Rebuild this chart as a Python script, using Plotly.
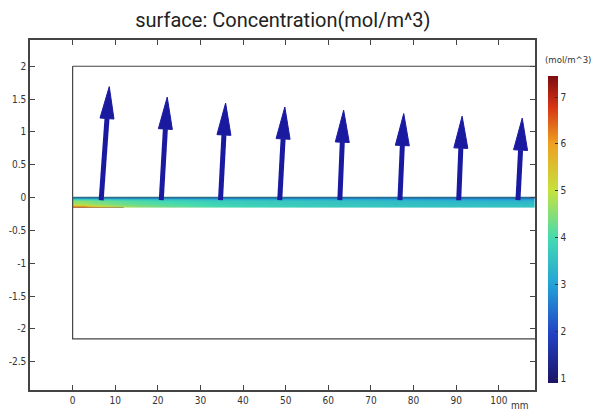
import plotly.graph_objects as go
import numpy as np

# ---- data ----
x_ticks = [0, 10, 20, 30, 40, 50, 60, 70, 80, 90, 100]
y_ticks = [-2.5, -2, -1.5, -1, -0.5, 0, 0.5, 1, 1.5, 2]
y_tick_labels = ["-2.5", "-2", "-1.5", "-1", "-0.5", "0", "0.5", "1", "1.5", "2"]

# outer domain (mm)
domain_x = [0, 110, 110, 0, 0]
domain_y = [2, 2, -2.15, -2.15, 2]

# concentration strip (surface plot): cell edges in mm, values per cell
strip_x_edges = [0, 5, 15, 30, 45, 60, 75, 90, 110]
strip_y_edges = [0, -0.02, -0.07, -0.12, -0.15]
strip_c = [
    [2.7, 2.6, 2.6, 2.5, 2.5, 2.5, 2.4, 2.4],
    [4.5, 4.2, 3.9, 3.7, 3.6, 3.5, 3.4, 3.3],
    [4.8, 4.4, 4.1, 3.8, 3.7, 3.6, 3.5, 3.5],
    [6.4, 4.9, 4.3, 4.0, 3.8, 3.7, 3.6, 3.6],
]

# flux arrows: base x, tip offset x, tip y
arrow_x = [6.7, 20.8, 34.7, 48.6, 62.7, 76.8, 90.6, 104.5]
arrow_dx = [1.9, 1.4, 1.2, 1.2, 0.9, 0.9, 0.8, 1.0]
arrow_tip_y = [1.69, 1.53, 1.44, 1.38, 1.33, 1.28, 1.24, 1.21]
arrow_base_y = -0.04

cbar_ticks = [1, 2, 3, 4, 5, 6, 7]
c_min, c_max = 0.9, 7.45

# ---- styles ----
X_RANGE = [-10, 108.5]
Y_RANGE = [-2.93, 2.4]
PX_PER_X = 505 / (X_RANGE[1] - X_RANGE[0])
PX_PER_Y = 350 / (Y_RANGE[1] - Y_RANGE[0])
HEAD_LEN_PX = 32
HEAD_HALF_W_PX = 7
ARROW_COLOR = "#1a1aa0"
FONT = "DejaVu Sans Condensed, Liberation Sans Narrow, Roboto"

rainbow = [
    [0.0, "#1c1466"],
    [0.16, "#2242c4"],
    [0.32, "#22a2d8"],
    [0.47, "#44dab2"],
    [0.625, "#c6e23e"],
    [0.78, "#eea020"],
    [0.9, "#d63414"],
    [1.0, "#7e0c10"],
]

fig = go.Figure()

fig.add_trace(go.Heatmap(
    x=strip_x_edges, y=strip_y_edges, z=strip_c, zsmooth="best",
    zmin=c_min, zmax=c_max, colorscale=rainbow,
    colorbar=dict(
        x=1.025, xanchor="left", xpad=0, y=0.4586, yanchor="middle", ypad=0,
        len=0.877, lenmode="fraction", thickness=10,
        outlinewidth=0, tickvals=cbar_ticks, ticks="inside", ticklen=3,
        tickcolor="#333", tickfont=dict(family=FONT, size=10, color="#333"),
    ),
    hoverinfo="skip", showscale=True,
))

# domain outline
fig.add_trace(go.Scatter(x=domain_x, y=domain_y, mode="lines",
                         line=dict(color="#444", width=1.2), hoverinfo="skip", showlegend=False))
# strip boundaries
fig.add_trace(go.Scatter(x=[domain_x[0], domain_x[1]], y=[strip_y_edges[0], strip_y_edges[0]], mode="lines",
                         line=dict(color="#2a6f86", width=1.5), hoverinfo="skip", showlegend=False))
fig.add_trace(go.Scatter(x=[domain_x[0], 12], y=[strip_y_edges[-1], strip_y_edges[-1]], mode="lines",
                         line=dict(color="rgba(120,70,20,0.5)", width=1), hoverinfo="skip", showlegend=False))

# arrows
for bx, dx, ty in zip(arrow_x, arrow_dx, arrow_tip_y):
    tx = bx + dx
    vx = dx * PX_PER_X
    vy = (ty - arrow_base_y) * PX_PER_Y
    L = np.hypot(vx, vy)
    ux, uy = vx / L, vy / L
    hbx = tx - ux * HEAD_LEN_PX / PX_PER_X
    hby = ty - uy * HEAD_LEN_PX / PX_PER_Y
    px_, py_ = -uy, ux
    lx = hbx + px_ * HEAD_HALF_W_PX / PX_PER_X
    ly = hby + py_ * HEAD_HALF_W_PX / PX_PER_Y
    rx = hbx - px_ * HEAD_HALF_W_PX / PX_PER_X
    ry = hby - py_ * HEAD_HALF_W_PX / PX_PER_Y
    fig.add_trace(go.Scatter(x=[bx, hbx], y=[arrow_base_y, hby], mode="lines",
                             line=dict(color=ARROW_COLOR, width=5), hoverinfo="skip", showlegend=False))
    fig.add_trace(go.Scatter(x=[tx, lx, rx, tx], y=[ty, ly, ry, ty], mode="lines",
                             fill="toself", fillcolor=ARROW_COLOR,
                             line=dict(color=ARROW_COLOR, width=1), hoverinfo="skip", showlegend=False))

axis_font = dict(family=FONT, size=10, color="#333")
fig.update_xaxes(range=X_RANGE, tickvals=x_ticks, ticks="inside", ticklen=5, tickcolor="#444",
                 showline=True, linecolor="#444", linewidth=1.5, mirror="ticks",
                 showgrid=False, zeroline=False, tickfont=axis_font)
fig.update_yaxes(range=Y_RANGE, tickvals=y_ticks, ticktext=y_tick_labels, ticks="inside", ticklen=5,
                 tickcolor="#444", showline=True, linecolor="#444", linewidth=1.5, mirror="ticks",
                 showgrid=False, zeroline=False, tickfont=axis_font)

fig.add_annotation(text="mm", xref="paper", yref="paper", x=0.97, y=-0.045,
                   xanchor="center", yanchor="middle", showarrow=False,
                   font=dict(family=FONT, size=10, color="#333"))
fig.add_annotation(text="(mol/m^3)", xref="paper", yref="paper", x=1.015, y=0.944,
                   xanchor="left", yanchor="middle", showarrow=False,
                   font=dict(family=FONT, size=9.5, color="#333"))

fig.update_layout(
    width=593, height=412,
    margin=dict(l=30, r=58, t=40, b=22, autoexpand=False),
    paper_bgcolor="white", plot_bgcolor="white",
    showlegend=False,
    title=dict(text="surface: Concentration(mol/m^3)", x=0.477, xanchor="center",
               y=0.951, yanchor="middle",
               font=dict(family="Roboto", size=20, color="#222")),
)

fig.write_html("out.html", config={"displayModeBar": False},
               post_script="document.body.style.margin='0';")
